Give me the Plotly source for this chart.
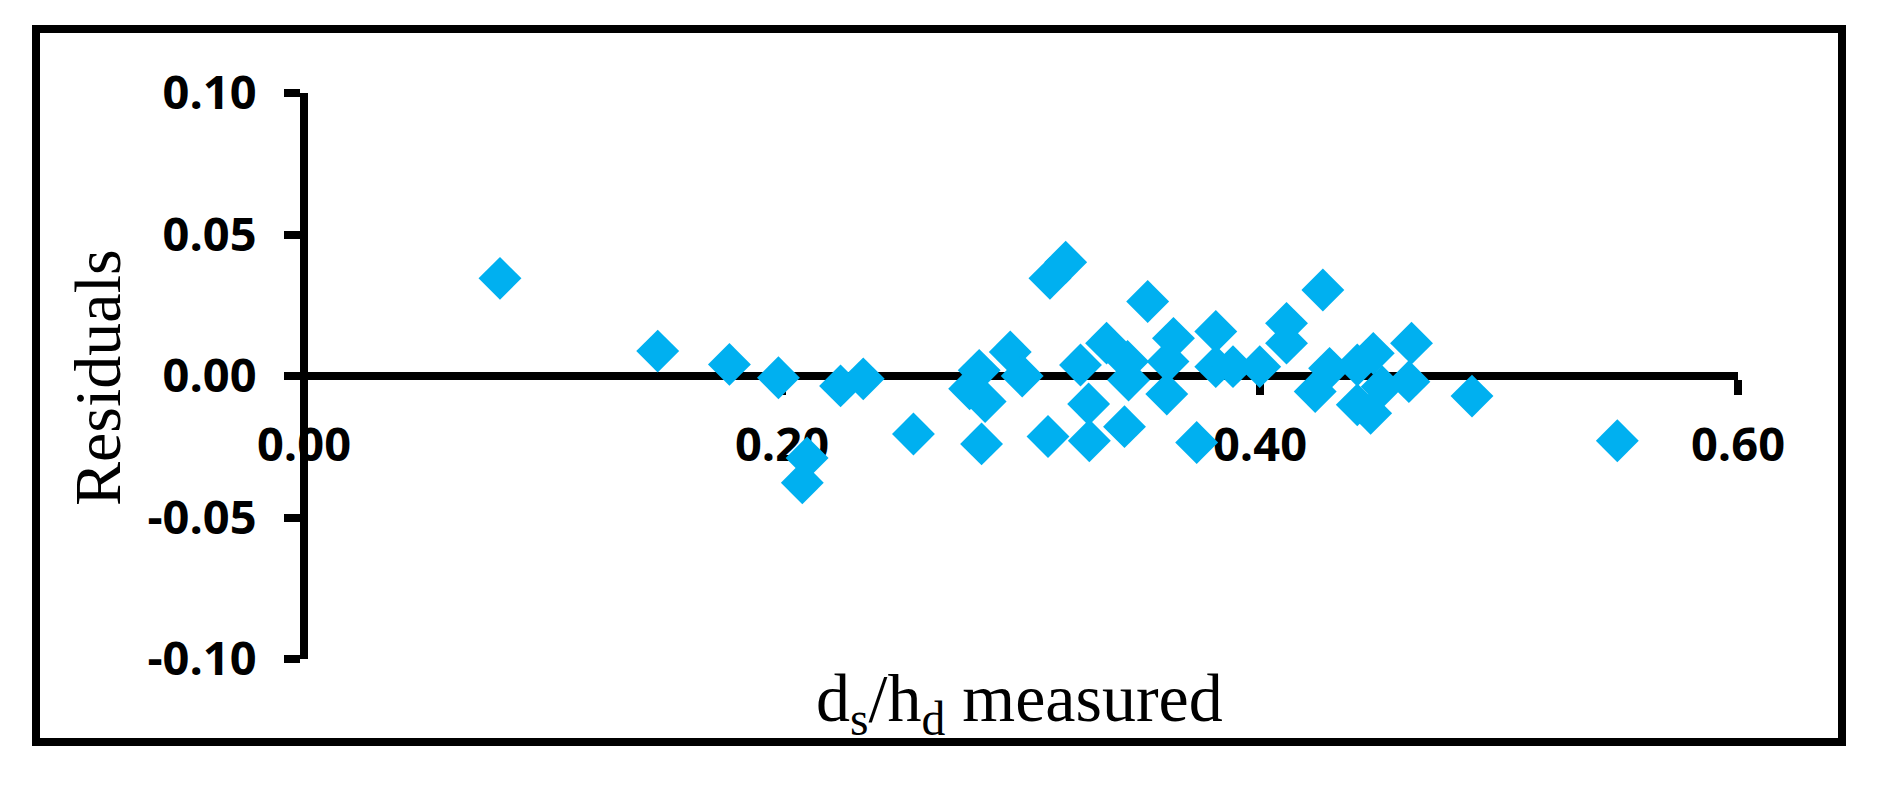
import plotly.graph_objects as go

# Data
ds_hd_measured = [
    0.082, 0.148, 0.178, 0.1985, 0.2245, 0.234, 0.2105, 0.2085, 0.255,
    0.2785, 0.2825, 0.285, 0.2955, 0.3005, 0.2835,
    0.3187, 0.3121,
    0.3249, 0.3283, 0.3286, 0.3113,
    0.3433, 0.3358, 0.3446, 0.345, 0.353,
    0.3638, 0.3615, 0.361, 0.3735,
    0.3815, 0.3815, 0.3887, 0.3999,
    0.4111, 0.4111, 0.4263, 0.4291, 0.4231,
    0.4407, 0.4474, 0.4407, 0.4463, 0.4634, 0.4623, 0.4511,
    0.4887, 0.5495,
]
residuals = [
    0.0345, 0.0088, 0.0041, -0.0006, -0.0035, -0.001, -0.029, -0.0377, -0.0205,
    -0.0045, 0.002, -0.009, 0.0085, 0.0, -0.024,
    0.0402, 0.0345,
    0.0039, -0.0099, -0.0229, -0.0214,
    -0.0179, 0.0116, 0.0051, -0.0014, 0.0263,
    0.0133, 0.0051, -0.0064, -0.0235,
    0.0157, 0.0033, 0.0033, 0.0033,
    0.0186, 0.0116, 0.0304, 0.0027, -0.0055,
    0.0039, 0.0080, -0.0102, -0.0132, 0.0116, -0.0020, -0.0038,
    -0.0071, -0.0229,
]

x_ticks = [0.0, 0.2, 0.4, 0.6]
x_ticktext = ["0.00", "0.20", "0.40", "0.60"]
y_ticks = [-0.10, -0.05, 0.0, 0.05, 0.10]
y_ticktext = ["-0.10", "-0.05", "0.00", "0.05", "0.10"]

W, H = 1892, 789
x_left, x_right = 304, 1738
y_top, y_bot = 93, 659

fig = go.Figure()
fig.add_trace(go.Scatter(
    x=ds_hd_measured, y=residuals, mode="markers",
    marker=dict(symbol="diamond", size=33, color="#00B0F0", line=dict(width=0)),
    showlegend=False, hoverinfo="skip",
))

tick_font = dict(family="Open Sans", size=47, color="black", weight="bold")

fig.update_layout(
    width=W, height=H, autosize=False,
    margin=dict(l=0, r=0, t=0, b=0, pad=0, autoexpand=False),
    paper_bgcolor="white", plot_bgcolor="white",
    xaxis=dict(
        range=[0, 0.6], domain=[x_left / W, x_right / W],
        anchor="free", position=(H - (y_top + y_bot) / 2) / H,
        tickvals=x_ticks, ticktext=x_ticktext,
        ticks="outside", ticklen=15, tickwidth=8, tickcolor="black",
        showline=True, linewidth=8, linecolor="black",
        showgrid=False, zeroline=False, layer="below traces",
        tickfont=tick_font, ticklabelstandoff=10, automargin=False,
    ),
    yaxis=dict(
        range=[-0.1, 0.1], domain=[(H - y_bot) / H, (H - y_top) / H],
        anchor="free", position=x_left / W,
        tickvals=y_ticks, ticktext=y_ticktext,
        ticks="outside", ticklen=16, tickwidth=8, tickcolor="black",
        showline=True, linewidth=8, linecolor="black",
        showgrid=False, zeroline=False, layer="below traces",
        tickfont=tick_font, ticklabelstandoff=18, automargin=False,
    ),
    shapes=[dict(
        type="rect", xref="paper", yref="paper",
        x0=36 / W, x1=1842 / W, y0=(H - 742) / H, y1=(H - 29) / H,
        line=dict(color="black", width=8), fillcolor="rgba(0,0,0,0)", layer="above",
    )],
    annotations=[
        dict(text="Residuals", xref="paper", yref="paper",
             x=97 / W, y=(H - 378) / H, xanchor="center", yanchor="middle",
             textangle=-90, showarrow=False,
             font=dict(family="Liberation Serif", size=66, color="black")),
        dict(text="d<sub>s</sub>/h<sub>d</sub> measured", xref="paper", yref="paper",
             x=1019 / W, y=(H - 702) / H, xanchor="center", yanchor="middle",
             showarrow=False,
             font=dict(family="Liberation Serif", size=68, color="black")),
    ],
)

fig.write_html(
    "out.html",
    config={"displayModeBar": False},
    post_script="document.body.style.margin='0';document.body.style.overflow='hidden';",
)
